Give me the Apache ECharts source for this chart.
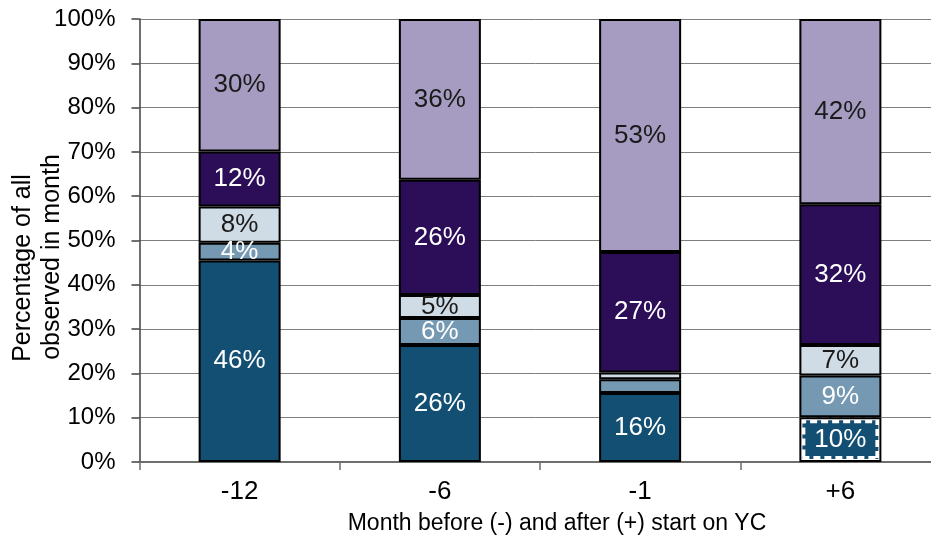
<!DOCTYPE html>
<html>
<head>
<meta charset="utf-8">
<script src="https://cdn.jsdelivr.net/npm/echarts@6/dist/echarts.min.js"></script>
<style>
  html, body { margin: 0; padding: 0; background: #fff; }
  #chart { width: 931px; height: 544px; }
</style>
</head>
<body>
<div id="chart"></div>
<script>
// Months relative to the start on YC
const months = ['-12', '-6', '-1', '+6'];

// Share of everyone observed in each month (percent), bottom to top of each stack
const seg1 = [45.5, 26.4, 15.6, 10.1];
const seg2 = [4.0, 6.1, 3.1, 9.4];
const seg3 = [8.2, 5.2, 1.5, 6.9];
const seg4 = [12.4, 26.0, 27.2, 31.8];
const seg5 = [29.9, 36.3, 52.6, 41.8];

const yTicks = [0, 10, 20, 30, 40, 50, 60, 70, 80, 90, 100];

const yTitle = ['Percentage of all', 'observed in month'];
const xTitle = 'Month before (-) and after (+) start on YC';

const FONT = '"Liberation Sans", Arial, sans-serif';

const segments = [
  { data: seg1, color: '#134f73', text: '#ffffff' },
  { data: seg2, color: '#7599b3', text: '#ffffff' },
  { data: seg3, color: '#cfdce6', text: '#1a1a1a' },
  { data: seg4, color: '#2b0d58', text: '#ffffff' },
  { data: seg5, color: '#a69cc1', text: '#1a1a1a' }
];

// The +6 bottom segment is drawn with a dashed white edge
const dashedEdge = [false, false, false, true];

const BAR_W = 82;

const series = segments.map((s, si) => ({
  type: 'bar',
  stack: 'total',
  barWidth: BAR_W,
  data: s.data.map((v, i) => {
    const item = { value: v };
    if (si === 0 && dashedEdge[i]) {
      item.itemStyle = {
        color: s.color,
        borderColor: '#ffffff',
        borderWidth: 6,
        borderType: [7, 4]
      };
    }
    return item;
  }),
  itemStyle: { color: s.color, borderColor: '#000000', borderWidth: 2 },
  label: {
    show: true,
    position: 'inside',
    color: s.text,
    fontFamily: FONT,
    fontSize: 26,
    formatter: p => (p.value < 3.5 ? '' : Math.round(p.value) + '%')
  },
  z: 2
}));

// Black outline laid over the dashed-edge segment
series.push({
  type: 'bar',
  xAxisIndex: 1,
  stack: 'outline',
  barWidth: BAR_W,
  silent: true,
  data: seg1.map((v, i) => (dashedEdge[i] ? v : null)),
  itemStyle: { color: 'rgba(0,0,0,0)', borderColor: '#000000', borderWidth: 2 },
  z: 3
});

const chart = echarts.init(document.getElementById('chart'), null, { renderer: 'canvas' });

chart.setOption({
  animation: false,
  backgroundColor: '#ffffff',
  // the plot area runs slightly past the right edge of the canvas
  grid: { left: 139.5, top: 19, width: 801, height: 443, containLabel: false, outerBoundsMode: 'none' },
  xAxis: [
    {
      type: 'category',
      data: months,
      axisLine: { show: true, lineStyle: { color: '#6e6e6e', width: 2 } },
      axisTick: { show: true, length: 8, lineStyle: { color: '#6e6e6e', width: 1.5 } },
      axisLabel: { color: '#000000', fontFamily: FONT, fontSize: 26, margin: 17 }
    },
    {
      type: 'category',
      data: months,
      show: false,
      gridIndex: 0
    }
  ],
  yAxis: {
    type: 'value',
    min: 0,
    max: 100,
    interval: 10,
    axisLine: { show: true, lineStyle: { color: '#404040', width: 1.5 } },
    axisTick: { show: true, length: 8, inside: false, lineStyle: { color: '#404040', width: 1.5 } },
    axisLabel: {
      color: '#000000',
      fontFamily: FONT,
      fontSize: 24,
      margin: 24,
      formatter: v => (yTicks.indexOf(v) >= 0 ? v + '%' : '')
    },
    splitLine: { show: true, lineStyle: { color: '#7f7f7f', width: 1 } }
  },
  graphic: [
    {
      type: 'text',
      x: 23,
      y: 268,
      rotation: Math.PI / 2,
      style: {
        text: yTitle[0],
        fill: '#000000',
        font: '25px ' + FONT,
        align: 'center',
        verticalAlign: 'middle'
      },
      z: 10
    },
    {
      type: 'text',
      x: 52,
      y: 257,
      rotation: Math.PI / 2,
      style: {
        text: yTitle[1],
        fill: '#000000',
        font: '25px ' + FONT,
        align: 'center',
        verticalAlign: 'middle'
      },
      z: 10
    },
    {
      type: 'text',
      x: 557,
      y: 524,
      style: {
        text: xTitle,
        fill: '#000000',
        font: '23px ' + FONT,
        align: 'center',
        verticalAlign: 'middle'
      }
    }
  ],
  series: series
});
</script>
</body>
</html>
